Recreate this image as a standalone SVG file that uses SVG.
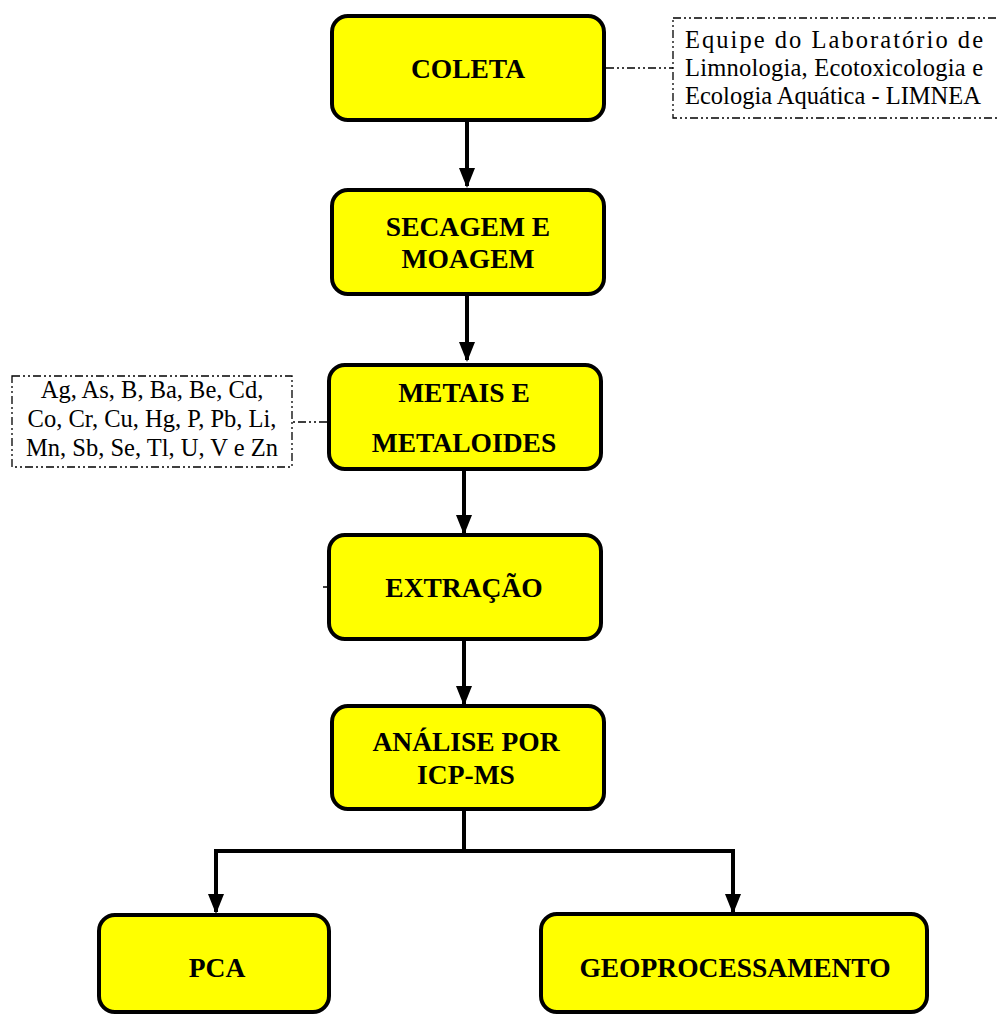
<svg xmlns="http://www.w3.org/2000/svg" width="997" height="1015" viewBox="0 0 997 1015">
<style>
.box{fill:#ffff00;stroke:#000;stroke-width:4}
.lbl{font-family:"Liberation Serif","Times New Roman",Times,serif;font-weight:bold;font-size:27.5px;fill:#000;text-anchor:middle}
.note{fill:#fff;stroke:#000;stroke-width:1.3;stroke-dasharray:8 3 2 3 2 3}
.ntxt{font-family:"Liberation Serif","Times New Roman",Times,serif;font-size:24.5px;fill:#000}
.conn{fill:none;stroke:#000;stroke-width:4}
.dconn{fill:none;stroke:#000;stroke-width:1.5;stroke-dasharray:8 3 2 3 2 3}
</style>
<defs>
<marker id="ah" markerWidth="5" markerHeight="4" refX="4.5" refY="2" orient="auto" markerUnits="strokeWidth">
<path d="M0,0 L5,2 L0,4 Z" fill="#000"/>
</marker>
</defs>
<g id="connectors">
<line class="conn" x1="467" y1="120" x2="467" y2="186" marker-end="url(#ah)"/>
<line class="conn" x1="467" y1="294" x2="467" y2="360" marker-end="url(#ah)"/>
<line class="conn" x1="464" y1="470" x2="464" y2="533" marker-end="url(#ah)"/>
<line class="conn" x1="464" y1="640" x2="464" y2="704" marker-end="url(#ah)"/>
<polyline class="conn" points="464,810 464,851 216,851 216,912" marker-end="url(#ah)"/>
<polyline class="conn" points="464,851 733,851 733,912" marker-end="url(#ah)"/>
<line class="dconn" x1="606" y1="68" x2="673" y2="68"/>
<line class="dconn" x1="327" y1="422" x2="292" y2="422"/>
<line x1="323" y1="587" x2="328" y2="587" stroke="#000" stroke-width="1.5"/>
</g>
<g id="coleta">
<rect class="box" x="332" y="16" width="272" height="104" rx="16"/>
<text class="lbl" x="468" y="78">COLETA</text>
</g>
<g id="note-limnea">
<rect class="note" x="673" y="18" width="330" height="100"/>
<text class="ntxt" x="685" y="48" textLength="298" lengthAdjust="spacing">Equipe do Laboratório de</text>
<text class="ntxt" x="685" y="76" textLength="298" lengthAdjust="spacing">Limnologia, Ecotoxicologia e</text>
<text class="ntxt" x="685" y="104">Ecologia Aquática - LIMNEA</text>
</g>
<g id="secagem">
<rect class="box" x="332" y="190" width="272" height="104" rx="16"/>
<text class="lbl" x="468" y="236">SECAGEM E</text>
<text class="lbl" x="468" y="268">MOAGEM</text>
</g>
<g id="metais">
<rect class="box" x="329" y="365" width="272" height="104" rx="16"/>
<text class="lbl" x="464" y="402">METAIS E</text>
<text class="lbl" x="464" y="452">METALOIDES</text>
</g>
<g id="note-elementos">
<rect class="note" x="12" y="376" width="280" height="91"/>
<text class="ntxt" x="152" y="398" text-anchor="middle">Ag, As, B, Ba, Be, Cd,</text>
<text class="ntxt" x="152" y="427" text-anchor="middle">Co, Cr, Cu, Hg, P, Pb, Li,</text>
<text class="ntxt" x="152" y="456" text-anchor="middle">Mn, Sb, Se, Tl, U, V e Zn</text>
</g>
<g id="extracao">
<rect class="box" x="329" y="535" width="272" height="104" rx="16"/>
<text class="lbl" x="464" y="597">EXTRAÇÃO</text>
</g>
<g id="analise">
<rect class="box" x="332" y="706" width="272" height="103" rx="16"/>
<text class="lbl" x="466" y="751">ANÁLISE POR</text>
<text class="lbl" x="466" y="784">ICP-MS</text>
</g>
<g id="pca">
<rect class="box" x="99" y="915" width="230" height="97" rx="16"/>
<text class="lbl" x="217" y="977">PCA</text>
</g>
<g id="geoprocessamento">
<rect class="box" x="541" y="914" width="386" height="98" rx="16"/>
<text class="lbl" x="735" y="977">GEOPROCESSAMENTO</text>
</g>
</svg>
